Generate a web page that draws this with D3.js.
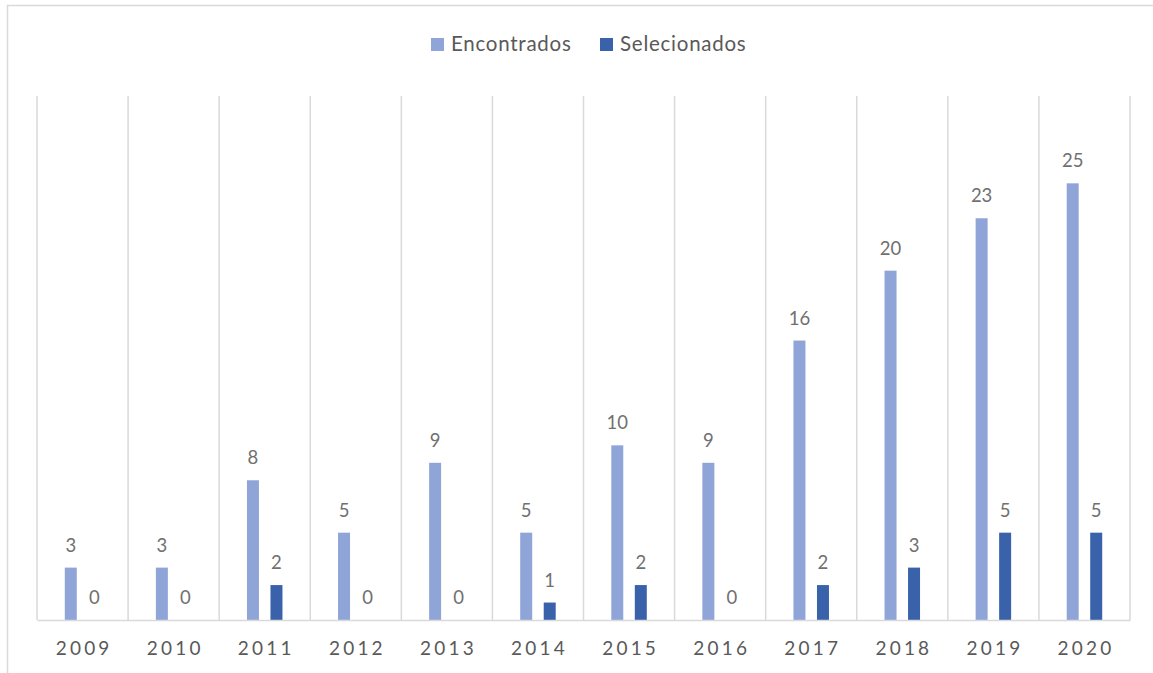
<!DOCTYPE html>
<html>
<head>
<meta charset="utf-8">
<script src="https://cdn.jsdelivr.net/npm/d3@7"></script>
<style>
  html, body { margin: 0; padding: 0; background: #fff; }
  svg { display: block; font-family: Lato, "Open Sans", sans-serif; }
</style>
</head>
<body>
<svg id="chart" width="1153" height="673"></svg>
<script>
// Years on the category axis
const years = ["2009", "2010", "2011", "2012", "2013", "2014", "2015", "2016", "2017", "2018", "2019", "2020"];
// Series names
const seriesNames = ["Encontrados", "Selecionados"];
// Values per year
const encontrados = [3, 3, 8, 5, 9, 5, 10, 9, 16, 20, 23, 25];
const selecionados = [0, 0, 2, 0, 0, 1, 2, 0, 2, 3, 5, 5];
const seriesColors = ["#8FA5D7", "#3A62AB"];

const rows = years.map((y, i) => ({ year: y, values: [encontrados[i], selecionados[i]] }));

const svg = d3.select("#chart");

// outer chart frame
svg.append("rect")
  .attr("x", 7.5).attr("y", 5.5)
  .attr("width", 1160).attr("height", 680)
  .attr("fill", "none").attr("stroke", "#d9d9d9").attr("stroke-width", 1.5);

const plot = { left: 37, right: 1130, top: 96, bottom: 620 };

const x0 = d3.scaleBand().domain(years).range([plot.left, plot.right]).padding(0);
const x1 = d3.scaleBand().domain(seriesNames).range([-17.75, 17.75]).paddingInner(0.49).paddingOuter(0);
const y = d3.scaleLinear().domain([0, 30]).range([plot.bottom, plot.top]);
const color = d3.scaleOrdinal().domain(seriesNames).range(seriesColors);

// vertical category separators
const gridX = years.map(yr => x0(yr)).concat([plot.right]);
svg.append("g").selectAll("line").data(gridX).join("line")
  .attr("x1", d => d).attr("x2", d => d)
  .attr("y1", plot.top).attr("y2", plot.bottom)
  .attr("stroke", "#d9d9d9").attr("stroke-width", 1.5);

// bars
const groups = svg.append("g").selectAll("g").data(rows).join("g")
  .attr("transform", d => `translate(${x0(d.year) + x0.bandwidth() / 2},0)`);

groups.selectAll("rect")
  .data(d => d.values.map((v, i) => ({ key: seriesNames[i], value: v })))
  .join("rect")
  .attr("x", d => x1(d.key))
  .attr("width", x1.bandwidth())
  .attr("y", d => y(d.value))
  .attr("height", d => y(0) - y(d.value))
  .attr("fill", d => color(d.key));

// value labels
groups.selectAll("text")
  .data(d => d.values.map((v, i) => ({ key: seriesNames[i], value: v })))
  .join("text")
  .attr("x", d => x1(d.key) + x1.bandwidth() / 2)
  .attr("y", d => y(d.value) - 16)
  .attr("text-anchor", "middle")
  .attr("fill", "#707070")
  .attr("font-size", 18.5)
  .text(d => d.value);

// category axis
const xAxis = svg.append("g")
  .attr("transform", `translate(0,${plot.bottom})`)
  .call(d3.axisBottom(x0).tickSize(0).tickPadding(0));
xAxis.select(".domain").attr("stroke", "#d9d9d9").attr("stroke-width", 1.5);
xAxis.selectAll("text")
  .attr("y", 35)
  .attr("dy", null)
  .attr("fill", "#595959")
  .attr("font-size", 19)
  .attr("font-family", "Lato, 'Open Sans', sans-serif")
  .attr("letter-spacing", 3.2)
  .attr("dx", 1.6);

// legend
const legendItems = [
  { key: seriesNames[0], x: 431 },
  { key: seriesNames[1], x: 600 }
];
const legend = svg.append("g").selectAll("g").data(legendItems).join("g")
  .attr("transform", d => `translate(${d.x},38)`);
legend.append("rect").attr("width", 13).attr("height", 13).attr("fill", d => color(d.key));
legend.append("text")
  .attr("x", 20).attr("y", 13)
  .attr("fill", "#595959")
  .attr("font-size", 20.5)
  .attr("letter-spacing", 0.75)
  .text(d => d.key);
</script>
</body>
</html>
